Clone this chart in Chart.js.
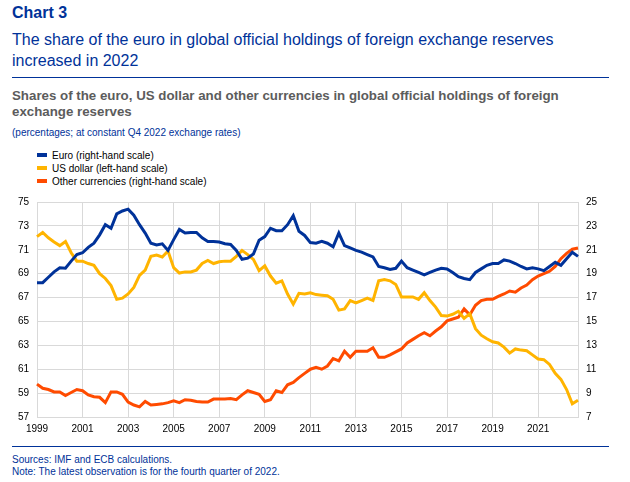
<!DOCTYPE html>
<html>
<head>
<meta charset="utf-8">
<script src="https://cdn.jsdelivr.net/npm/chart.js@4/dist/chart.umd.min.js"></script>
<style>
  body { margin: 0; width: 630px; height: 482px; background: #fff; font-family: "Liberation Sans", Arial, sans-serif; position: relative; overflow: hidden; }
  .t { position: absolute; left: 12px; white-space: nowrap; }
  .rule { position: absolute; left: 12px; width: 597px; height: 0; border-top: 1.5px solid #003299; }
  #legend { position: absolute; left: 37px; top: 149px; font-size: 10px; color: #000; }
  #legend div { height: 13px; line-height: 13px; white-space: nowrap; }
  #legend span { display: inline-block; width: 10px; height: 4px; margin-right: 5px; vertical-align: 2px; }
  #wrap { position: absolute; left: 0; top: 188px; width: 630px; height: 251px; }
</style>
</head>
<body>
<div class="t" style="top:4px;font-size:16px;font-weight:bold;color:#003299;">Chart 3</div>
<div class="t" style="top:29px;font-size:16px;line-height:21px;color:#003299;">The share of the euro in global official holdings of foreign exchange reserves<br>increased in 2022</div>
<div class="rule" style="top:77px;"></div>
<div class="t" style="top:88px;font-size:13.3px;line-height:16px;font-weight:bold;color:#5c5c5c;">Shares of the euro, US dollar and other currencies in global official holdings of foreign<br>exchange reserves</div>
<div class="t" style="top:127px;font-size:10px;color:#003299;">(percentages; at constant Q4 2022 exchange rates)</div>
<div id="legend"></div>
<div id="wrap"><canvas id="myChart"></canvas></div>
<div class="rule" style="top:446px;"></div>
<div class="t" style="top:454px;font-size:10px;line-height:12px;color:#003299;">Sources: IMF and ECB calculations.<br>Note: The latest observation is for the fourth quarter of 2022.</div>

<script>
const years = [1999, 2000, 2001, 2002, 2003, 2004, 2005, 2006, 2007, 2008, 2009, 2010,
    2011, 2012, 2013, 2014, 2015, 2016, 2017, 2018, 2019, 2020, 2021, 2022];
const quarters = ['Q1', 'Q2', 'Q3', 'Q4'];

const seriesNames = ['Euro (right-hand scale)', 'US dollar (left-hand scale)', 'Other currencies (right-hand scale)'];

// euro, right-hand scale
const euro = [
    18.25, 18.25, 18.7, 19.15, 19.5, 19.45, 20.05, 20.6, 20.75, 21.2, 21.55, 22.25, 23.1, 22.8, 24.0, 24.25,
    24.4, 23.9, 23.1, 22.4, 21.55, 21.4, 21.5, 20.95, 21.85, 22.7, 22.4, 22.45, 22.45, 22.0, 21.7, 21.7,
    21.65, 21.5, 21.45, 20.95, 20.2, 20.3, 20.65, 21.8, 22.1, 22.8, 22.6, 22.6, 23.1, 23.85, 22.55, 22.2,
    21.6, 21.55, 21.7, 21.55, 21.25, 22.4, 21.35, 21.15, 20.95, 20.8, 20.6, 20.4, 19.6, 19.5, 19.35, 19.45,
    20.05, 19.5, 19.3, 19.1, 18.9, 19.1, 19.3, 19.45, 19.4, 19.1, 18.75, 18.6, 18.5, 19.1, 19.4, 19.7,
    19.85, 19.85, 20.15, 20.05, 19.85, 19.6, 19.4, 19.5, 19.4, 19.25, 19.6, 19.95, 19.7, 20.25, 20.8, 20.45
];

// US dollar, left-hand scale
const usd = [
    72.1, 72.45, 72.0, 71.65, 71.35, 71.7, 70.75, 70.05, 70.05, 69.85, 69.7, 69.0, 68.6, 68.0, 66.85, 66.95,
    67.3, 67.85, 68.85, 69.3, 70.45, 70.55, 70.4, 70.9, 69.5, 69.05, 69.15, 69.15, 69.3, 69.85, 70.1, 69.85,
    70.0, 70.05, 70.05, 70.45, 70.95, 70.6, 70.2, 69.25, 69.65, 68.8, 68.2, 68.4, 67.3, 66.45, 67.35, 67.3,
    67.4, 67.25, 67.2, 67.15, 66.85, 65.95, 66.05, 66.75, 66.55, 66.75, 66.95, 66.75, 68.4, 68.5, 68.4, 68.1,
    67.05, 67.05, 67.05, 66.85, 67.4, 66.75, 66.2, 65.5, 65.45, 65.6, 65.85, 65.25, 65.65, 64.4, 63.85, 63.55,
    63.3, 63.2, 62.85, 62.35, 62.7, 62.6, 62.55, 62.2, 61.85, 61.8, 61.4, 60.65, 60.15, 59.3, 58.1, 58.4
];

// other currencies, right-hand scale
const other = [
    9.75, 9.4, 9.3, 9.1, 9.1, 8.8, 9.05, 9.3, 9.2, 8.85, 8.7, 8.65, 8.2, 9.1, 9.1, 8.9,
    8.25, 8.0, 7.85, 8.3, 8.0, 8.05, 8.1, 8.2, 8.35, 8.2, 8.45, 8.4, 8.3, 8.25, 8.25, 8.5,
    8.5, 8.5, 8.55, 8.45, 8.85, 9.2, 9.05, 8.9, 8.3, 8.45, 9.2, 9.05, 9.7, 9.9, 10.3, 10.65,
    11.0, 11.15, 11.0, 11.27, 11.9, 11.7, 12.5, 12.0, 12.5, 12.5, 12.5, 12.8, 12.0, 12.0, 12.2, 12.45,
    12.7, 13.2, 13.5, 13.8, 14.05, 13.8, 14.2, 14.55, 15.05, 15.2, 15.35, 16.05, 15.55, 16.35, 16.75, 16.85,
    16.85, 17.1, 17.3, 17.55, 17.45, 17.8, 18.05, 18.5, 18.8, 19.0, 19.2, 19.6, 20.25, 20.7, 21.05, 21.15
];

const labels = [];
years.forEach(y => quarters.forEach(q => labels.push(y + ' ' + q)));

const colors = ['#003299', '#ffb400', '#ff4b00'];
const gridColor = '#d9d9d9';
const tickFont = { family: '"Liberation Sans", Arial, sans-serif', size: 10 };

const legend = document.getElementById('legend');
seriesNames.forEach((name, i) => {
    const row = document.createElement('div');
    row.innerHTML = '<span style="background:' + colors[i] + '"></span>' + name;
    legend.appendChild(row);
});

const ctx = document.getElementById('myChart').getContext('2d');
new Chart(ctx, {
    type: 'line',
    data: {
        labels: labels,
        datasets: [
            { label: seriesNames[0], data: euro, yAxisID: 'y1', borderColor: colors[0] },
            { label: seriesNames[1], data: usd, yAxisID: 'y', borderColor: colors[1] },
            { label: seriesNames[2], data: other, yAxisID: 'y1', borderColor: colors[2] }
        ].map(d => Object.assign(d, { borderWidth: 3, pointRadius: 0, tension: 0, fill: false }))
    },
    options: {
        responsive: true,
        maintainAspectRatio: false,
        animation: false,
        layout: { padding: { top: 10, left: 0, right: 0, bottom: 0 } },
        plugins: { legend: { display: false }, tooltip: { enabled: false } },
        scales: {
            x: {
                type: 'category',
                offset: false,
                grid: {
                    color: c => (c.index % 8 === 0 ? gridColor : 'rgba(0,0,0,0)'),
                    drawTicks: false,
                    lineWidth: 1
                },
                border: { display: true, color: gridColor },
                ticks: {
                    autoSkip: false,
                    maxRotation: 0,
                    padding: 6,
                    color: '#000',
                    font: tickFont,
                    callback: (v, i) => (i % 8 === 0 ? String(years[i / 4]) : '')
                },
                afterFit: s => { s.height = 22; }
            },
            y: {
                position: 'left',
                min: 57,
                max: 75,
                ticks: { stepSize: 2, padding: 8, color: '#000', font: tickFont },
                grid: { color: gridColor, drawTicks: false },
                border: { display: true, color: gridColor },
                afterFit: s => { s.width = 37; }
            },
            y1: {
                position: 'right',
                min: 7,
                max: 25,
                ticks: { stepSize: 2, padding: 8, color: '#000', font: tickFont },
                grid: { display: false, drawTicks: false },
                border: { display: true, color: gridColor },
                afterFit: s => { s.width = 52; }
            }
        }
    }
});
</script>
</body>
</html>
